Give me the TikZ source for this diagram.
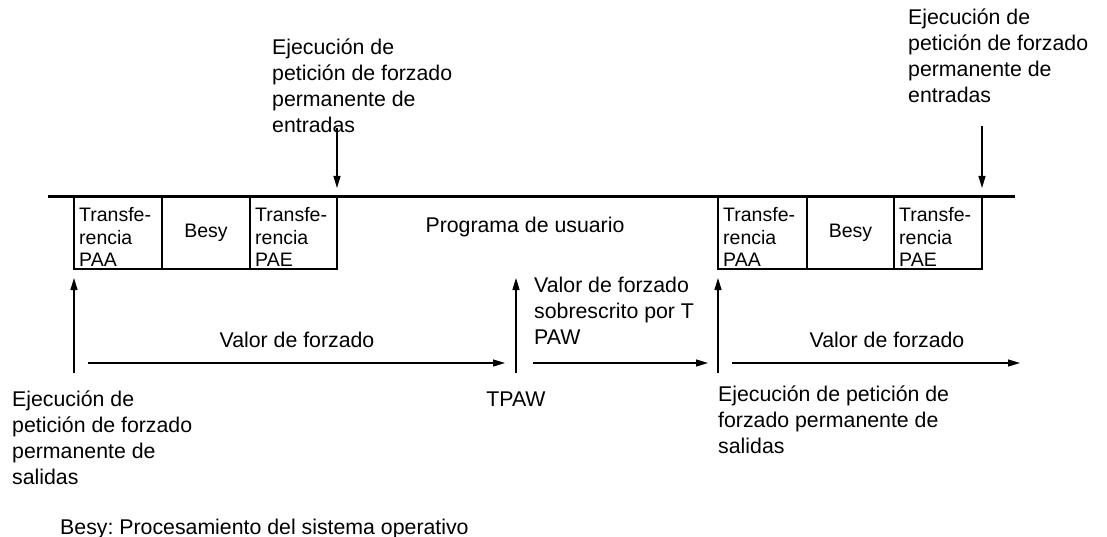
\documentclass[tikz,border=0pt]{standalone}
\usepackage{fontspec}
\setmainfont{Liberation Sans}
\frenchspacing
\usepackage{tikz}
\usetikzlibrary{arrows.meta,positioning}

\tikzset{
  lbl/.style={font=\fontsize{21.3}{26}\selectfont,align=left,inner sep=0pt},
  boxtxt/.style={font=\fontsize{19.5}{22.8}\selectfont,align=left,inner sep=0pt,anchor=north west},
  phase/.style={draw,line width=1.4pt,minimum height=72,inner sep=0pt,outer sep=0pt,
    font=\fontsize{19.5}{22.8}\selectfont},
  arr/.style={-{Triangle[length=12pt,width=7pt]},line width=1.2pt},
}

\begin{document}
\begin{tikzpicture}[x=1pt,y=-1pt,node distance=0pt]
  \useasboundingbox (0,0) rectangle (1107,537);

  % first cycle
  \node[phase,minimum width=88,anchor=north west] (paa1) at (74,197) {};
  \node[phase,minimum width=88,right=of paa1] (besy1) {Besy\vphantom{T}};
  \node[phase,minimum width=87,right=of besy1] (pae1) {};
  \node[boxtxt,below right=10pt and 5pt of paa1.north west] {Transfe-\\rencia\\PAA};
  \node[boxtxt,below right=10pt and 5pt of pae1.north west] {Transfe-\\rencia\\PAE};

  % second cycle
  \node[phase,minimum width=89,anchor=north west] (paa2) at (718,197) {};
  \node[phase,minimum width=87,right=of paa2] (besy2) {Besy\vphantom{T}};
  \node[phase,minimum width=88,right=of besy2] (pae2) {};
  \node[boxtxt,below right=10pt and 5pt of paa2.north west] {Transfe-\\rencia\\PAA};
  \node[boxtxt,below right=10pt and 5pt of pae2.north west] {Transfe-\\rencia\\PAE};

  \node[lbl,anchor=base] (prog) at (525,233) {Programa de usuario};

  % time axis
  \coordinate (t0) at (48,197);
  \coordinate (t1) at (1015,197);
  \draw[line width=3pt] (t0) -- (t1);

  % forcing inputs
  \node[lbl,anchor=north west] (inlbl1) at (272,39) {Ejecución de\\petición de forzado\\permanente de\\entradas};
  \node[lbl,anchor=north west] (inlbl2) at (908,9) {Ejecución de\\petición de forzado\\permanente de\\entradas};
  \coordinate (in1) at (337,128);
  \coordinate (in2) at (982,126);
  \draw[arr,shorten >=9pt] (in1) -- (pae1.north east);
  \draw[arr,shorten >=9pt] (in2) -- (pae2.north east);

  % forcing outputs
  \node[lbl,anchor=north west] (outlbl1) at (12,391) {Ejecución de\\petición de forzado\\permanente de\\salidas};
  \node[lbl,anchor=north west] (outlbl2) at (718,386) {Ejecución de petición de\\forzado permanente de\\salidas};
  \coordinate (out1) at (74,373);
  \coordinate (out2) at (718,373);
  \draw[arr,shorten >=9pt] (out1) -- (paa1.south west);
  \draw[arr,shorten >=9pt] (out2) -- (paa2.south west);

  \node[lbl,anchor=base] (tpaw) at (516,406) {TPAW};
  \coordinate (tpawtip) at (516,278);
  \draw[arr,shorten <=18pt] (tpaw.north) -- (tpawtip);
  \node[lbl,anchor=north west] (over) at (534,276.5) {Valor de forzado\\sobrescrito por T\\PAW};

  % forcing value spans
  \coordinate (v0) at (88,363);
  \coordinate (v1) at (505,363);
  \coordinate (v2) at (533,363);
  \coordinate (v3) at (708,363);
  \coordinate (v4) at (732,363);
  \coordinate (v5) at (1020,363);
  \draw[arr] (v0) -- (v1);
  \draw[arr] (v2) -- (v3);
  \draw[arr] (v4) -- (v5);
  \node[lbl,anchor=base] (val1) at (297,347) {Valor de forzado};
  \node[lbl,anchor=base] (val2) at (887,347) {Valor de forzado};

  \node[lbl,anchor=base west] (note) at (60,534) {Besy: Procesamiento del sistema operativo};
\end{tikzpicture}
\end{document}
